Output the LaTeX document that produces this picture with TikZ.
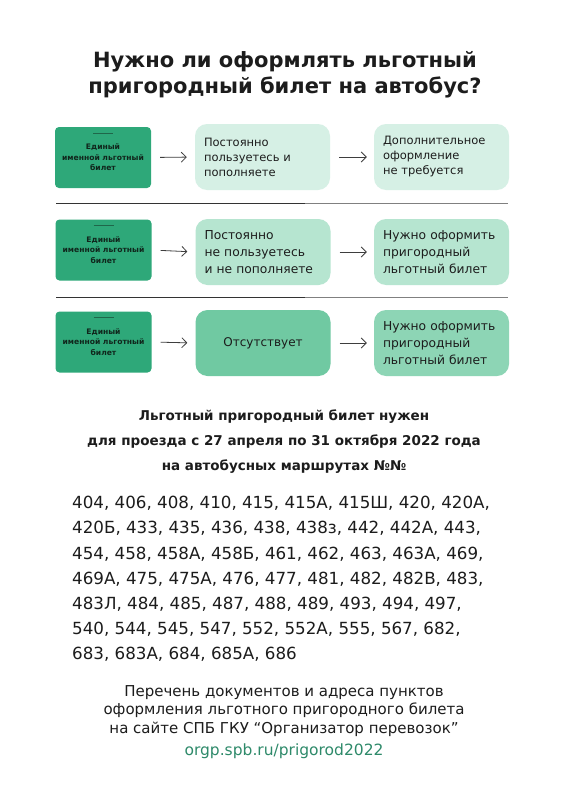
\documentclass[tikz,border=0pt]{standalone}
\usepackage{fontspec}
\setmainfont{DejaVu Sans}
\usetikzlibrary{arrows.meta,calc}
\definecolor{cardgreen}{HTML}{2EA879}
\definecolor{cardtext}{HTML}{10261C}
\definecolor{boxA}{HTML}{D6F0E5}
\definecolor{boxB}{HTML}{B6E5D0}
\definecolor{boxC}{HTML}{70C9A2}
\definecolor{boxD}{HTML}{8DD5B5}
\definecolor{txt}{HTML}{1C1C1C}
\definecolor{urlgreen}{HTML}{2E8A6A}
\tikzset{
  cardbox/.style={fill=cardgreen, rounded corners=4pt, minimum width=96pt, minimum height=61pt,
    align=center, text=cardtext, font=\bfseries\fontsize{7.6}{10.5}\selectfont, inner sep=0pt},
  flowbox/.style={rounded corners=12pt, minimum width=135pt, minimum height=66pt, text width=117pt,
    inner xsep=9pt, align=left, text=txt},
  smalltext/.style={font=\fontsize{11.5}{15}\selectfont},
  bigtext/.style={font=\fontsize{12.3}{17}\selectfont},
  flowarrow/.style={draw=txt!85, line width=0.8pt, -{Straight Barb[length=5pt,width=10pt,line width=0.8pt]}},
  sepline/.style={line width=1pt},
  cardline/.style={draw=cardtext!50!cardgreen, line width=0.6pt}
}
\begin{document}
\begin{tikzpicture}[x=1pt,y=-1pt]
\useasboundingbox (0,0) rectangle (566,800);
\fill[white] (0,0) rectangle (566,800);

% title
\node[font=\bfseries\fontsize{21}{26}\selectfont, align=center, text=txt] (title) at (285,75)
  {Нужно ли оформлять льготный\\пригородный билет на автобус?};

% row 1
\node[cardbox] (card1) at (103,157.5) {Единый\\именной льготный\\билет};
\node[flowbox, fill=boxA, smalltext] (b1) at (262.5,157) {Постоянно\\пользуетесь и\\пополняете};
\node[flowbox, fill=boxA, smalltext] (c1) at (441.5,157) {Дополнительное\\оформление\\не требуется};
\draw[flowarrow, shorten <=9pt, shorten >=8pt] (card1.east) -- (b1.west);
\draw[flowarrow, shorten <=9pt, shorten >=7pt] (b1.east) -- (c1.west);
\coordinate (h1a) at ($(card1.north)+(-10,6)$);
\coordinate (h1b) at ($(card1.north)+(10,6)$);
\draw[cardline] (h1a) -- (h1b);

% separator 1
\coordinate (s1a) at (56,203);
\coordinate (s1m) at (305,203);
\coordinate (s1b) at (508,203);
\draw[sepline, draw=black!80] (s1a) -- (s1m);
\draw[sepline, draw=black!50] (s1m) -- (s1b);

% row 2
\node[cardbox] (card2) at (103.5,250) {Единый\\именной льготный\\билет};
\node[flowbox, fill=boxB, bigtext] (b2) at (263,252) {Постоянно\\не пользуетесь\\и не пополняете};
\node[flowbox, fill=boxB, bigtext] (c2) at (441.5,252) {Нужно оформить\\пригородный\\льготный билет};
\draw[flowarrow, shorten <=9pt, shorten >=8pt] (card2.east) -- (b2.west);
\draw[flowarrow, shorten <=9pt, shorten >=7pt] (b2.east) -- (c2.west);
\coordinate (h2a) at ($(card2.north)+(-10,6)$);
\coordinate (h2b) at ($(card2.north)+(10,6)$);
\draw[cardline] (h2a) -- (h2b);

% separator 2
\coordinate (s2a) at (56,297);
\coordinate (s2m) at (305,297);
\coordinate (s2b) at (508,297);
\draw[sepline, draw=black!80] (s2a) -- (s2m);
\draw[sepline, draw=black!50] (s2m) -- (s2b);

% row 3
\node[cardbox] (card3) at (103.5,342) {Единый\\именной льготный\\билет};
\node[flowbox, fill=boxC, font=\fontsize{12}{17}\selectfont, align=center] (b3) at (263,343) {Отсутствует};
\node[flowbox, fill=boxD, bigtext] (c3) at (441.5,343) {Нужно оформить\\пригородный\\льготный билет};
\draw[flowarrow, shorten <=9pt, shorten >=8pt] (card3.east) -- (b3.west);
\draw[flowarrow, shorten <=9pt, shorten >=7pt] (b3.east) -- (c3.west);
\coordinate (h3a) at ($(card3.north)+(-10,6)$);
\coordinate (h3b) at ($(card3.north)+(10,6)$);
\draw[cardline] (h3a) -- (h3b);

% middle bold text
\node[font=\bfseries\fontsize{13.5}{25}\selectfont, align=center, text=txt] (mid) at (284,442)
  {Льготный пригородный билет нужен\\для проезда с 27 апреля по 31 октября 2022 года\\на автобусных маршрутах №№};

% route numbers
\node[font=\fontsize{16.7}{25.2}\selectfont, align=left, anchor=north west, inner sep=0pt, text=txt] (routes) at (72,496)
  {404, 406, 408, 410, 415, 415А, 415Ш, 420, 420А,\\
   420Б, 433, 435, 436, 438, 438з, 442, 442А, 443,\\
   454, 458, 458А, 458Б, 461, 462, 463, 463А, 469,\\
   469А, 475, 475А, 476, 477, 481, 482, 482В, 483,\\
   483Л, 484, 485, 487, 488, 489, 493, 494, 497,\\
   540, 544, 545, 547, 552, 552А, 555, 567, 682,\\
   683, 683А, 684, 685А, 686};

% bottom text
\node[font=\fontsize{15}{18.5}\selectfont, align=center, text=txt] (docs) at (284,711)
  {Перечень документов и адреса пунктов\\оформления льготного пригородного билета\\на сайте СПБ ГКУ “Организатор перевозок”};
\node[font=\fontsize{15.5}{20}\selectfont, text=urlgreen, anchor=north] (url) at (docs.south) {orgp.spb.ru/prigorod2022};
\end{tikzpicture}
\end{document}
